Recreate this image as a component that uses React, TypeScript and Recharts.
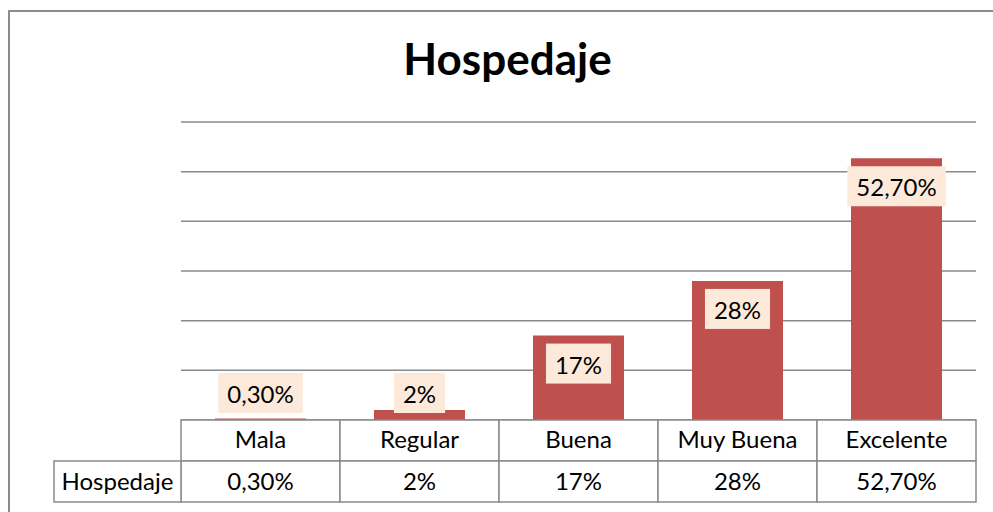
import { BarChart, Bar, XAxis, YAxis, CartesianGrid, LabelList } from 'recharts'

const categories = ['Mala', 'Regular', 'Buena', 'Muy Buena', 'Excelente']
const values = [0.3, 2, 17, 28, 52.7]
const valueLabels = ['0,30%', '2%', '17%', '28%', '52,70%']
const yTicks = [0, 10, 20, 30, 40, 50, 60]
const seriesName = 'Hospedaje'

const data = categories.map((name, i) => ({ name, value: values[i], label: valueLabels[i] }))

const W = 993
const H = 512
const M = { top: 122, right: 17, bottom: 8, left: 181 }
const AXIS_H = 84
const ROW_H = 41
const FONT = 'Lato, "Open Sans", sans-serif'
const GRID = '#8a8a8a'

let ctx: CanvasRenderingContext2D | null = null
function textWidth(s: string) {
  if (!ctx) ctx = document.createElement('canvas').getContext('2d')
  if (!ctx) return s.length * 12
  ctx.font = `24px ${FONT}`
  return ctx.measureText(s).width
}

function TableTick(props: any) {
  const { x, y, index, payload } = props
  const colW = (W - M.left - M.right) / categories.length
  const left = x - colW / 2
  return (
    <g>
      <rect x={left} y={y} width={colW} height={ROW_H} fill="#fff" stroke={GRID} strokeWidth={1.5} />
      <rect x={left} y={y + ROW_H} width={colW} height={ROW_H} fill="#fff" stroke={GRID} strokeWidth={1.5} />
      <text x={x} y={y + 28} textAnchor="middle" fontSize={24} fontFamily={FONT} fill="#000">
        {payload.value}
      </text>
      <text x={x} y={y + ROW_H + 29} textAnchor="middle" fontSize={24} fontFamily={FONT} fill="#000">
        {valueLabels[index]}
      </text>
      {index === 0 && (
        <g>
          <rect x={left - 127} y={y + ROW_H} width={127} height={ROW_H} fill="#fff" stroke={GRID} strokeWidth={1.5} />
          <text x={left - 63.5} y={y + ROW_H + 29} textAnchor="middle" fontSize={24} fontFamily={FONT} fill="#000">
            {seriesName}
          </text>
        </g>
      )}
    </g>
  )
}

function BoxLabel(props: any) {
  const { x, y, width, height, value } = props
  const s = String(value)
  const w = textWidth(s) + 18
  const bottom = y + height
  const top = Math.min(y + 8, bottom - 47)
  const cx = x + width / 2
  return (
    <g>
      <rect x={cx - w / 2} y={top} width={w} height={40} fill="#fde9d9" />
      <text x={cx} y={top + 30} textAnchor="middle" fontSize={24} fontFamily={FONT} fill="#000">
        {s}
      </text>
    </g>
  )
}

export default function App() {
  return (
    <div style={{ position: 'fixed', left: 0, top: 0, width: W, height: H, overflow: 'hidden', background: '#fff' }}>
      <div
        style={{
          position: 'absolute',
          left: 8,
          top: 10,
          width: 1000,
          height: 520,
          border: '2px solid #8c8c8c',
        }}
      />
      <div
        style={{
          position: 'absolute',
          left: 0,
          top: 32,
          width: W,
          textAlign: 'center',
          fontFamily: FONT,
          fontWeight: 700,
          fontSize: 44,
          color: '#000',
          paddingLeft: 22,
          boxSizing: 'border-box',
        }}
      >
        Hospedaje
      </div>
      <div style={{ position: 'absolute', left: 0, top: 0 }}>
        <BarChart width={W} height={H} data={data} margin={M}>
          <CartesianGrid horizontal vertical={false} stroke={GRID} strokeWidth={1.5} />
          <YAxis hide width={0} domain={[0, 60]} ticks={yTicks} />
          <XAxis
            dataKey="name"
            height={AXIS_H}
            axisLine={false}
            tickLine={false}
            tickSize={0}
            tickMargin={0}
            interval={0}
            tick={<TableTick />}
          />
          <Bar dataKey="value" fill="#c0504d" barSize={91} isAnimationActive={false}>
            <LabelList dataKey="label" content={<BoxLabel />} />
          </Bar>
        </BarChart>
      </div>
    </div>
  )
}
